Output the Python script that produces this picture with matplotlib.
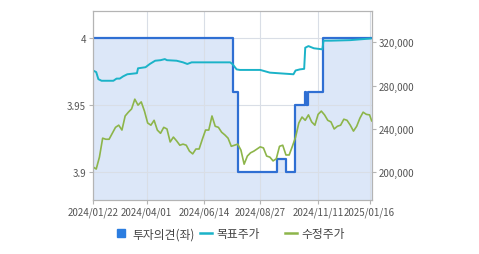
import matplotlib
matplotlib.use("Agg")
import matplotlib.pyplot as plt
from matplotlib.lines import Line2D
import pandas as pd

plt.rcParams["font.family"] = ["Noto Sans CJK KR", "DejaVu Sans"]

# --- data ---
days = pd.bdate_range("2024-01-22", "2025-01-20")   # trading-day category axis

tick_dates = ["2024-01-22", "2024-04-01", "2024-06-14", "2024-08-27", "2024-11-11", "2025-01-16"]
tick_labels = ["2024/01/22", "2024/04/01", "2024/06/14", "2024/08/27", "2024/11/11", "2025/01/16"]

# investment opinion (left axis), step series
opinion_dates = ["2024-01-22", "2024-07-23", "2024-07-29", "2024-09-18", "2024-09-30",
                 "2024-10-10", "2024-10-24", "2024-10-25", "2024-10-29", "2024-11-18", "2025-01-20"]
opinion_vals = [4.0, 3.96, 3.90, 3.91, 3.90, 3.95, 3.96, 3.95, 3.96, 4.0, 4.0]

# target price (right axis)
target_dates = ["2024-01-22", "2024-01-25", "2024-01-29", "2024-02-01", "2024-02-16", "2024-02-21",
                "2024-02-26", "2024-02-29", "2024-03-06", "2024-03-19", "2024-03-20", "2024-03-29",
                "2024-04-04", "2024-04-11", "2024-04-18", "2024-04-24", "2024-04-26", "2024-05-09",
                "2024-05-17", "2024-05-23", "2024-05-29", "2024-07-18", "2024-07-22", "2024-07-26",
                "2024-07-31", "2024-08-27", "2024-09-09", "2024-10-09", "2024-10-11", "2024-10-17",
                "2024-10-23", "2024-10-24", "2024-10-29", "2024-11-05", "2024-11-15", "2024-11-18",
                "2024-11-27", "2024-12-23", "2025-01-17"]
target_vals = [294000, 292500, 286000, 284500, 284500, 286500,
               286500, 288500, 290500, 291500, 296000, 297000,
               300000, 303000, 303500, 304500, 303500, 303000,
               301500, 300000, 301500, 301500, 300000, 295000,
               294500, 294500, 292000, 290500, 294000, 295000,
               295500, 315000, 316500, 314500, 313500, 321500,
               321500, 322000, 323500]

# adjusted close (right axis), sampled every 3 trading days
price_dates = list(days[:259:3]) + [days[-1]]
price_vals = [205000, 203000, 214000, 231500, 230500, 230500, 236000, 241500, 243500, 239000,
              252000, 255500, 258500, 267500, 262000, 265000, 256500, 245500, 243500, 248000,
              239000, 236000, 241500, 240000, 228000, 232500, 229000, 225000, 226000, 225000,
              219500, 217000, 221500, 221500, 230500, 239000, 239000, 252000, 242500, 241500,
              237000, 234500, 231500, 224000, 225000, 226000, 220500, 207500, 215000, 218000,
              219500, 221500, 223500, 222500, 215000, 214000, 210500, 212500, 224000, 225000,
              216000, 216000, 224000, 232500, 245500, 251000, 248000, 253000, 246500, 243500,
              253500, 256500, 253000, 248000, 246500, 240000, 242500, 243500, 249000, 248000,
              243500, 238000, 242500, 250000, 255500, 253500, 253000, 247500]


def pos(dates):
    return days.get_indexer(pd.to_datetime(dates))


BLUE = "#2f6fd3"
CYAN = "#1bb3c8"
GREEN = "#8db54a"
FILL = "#dce7f8"
GRID = "#d9dee6"
SPINE = "#b4b4b4"
TXT = "#555555"

fig = plt.figure(figsize=(4.79, 2.55), dpi=100)
ax = fig.add_axes([93 / 479, 1 - 201 / 255, (371.7 - 93) / 479, (201 - 12) / 255])
ax2 = ax.twinx()

ylo, yhi = 3.8793, 4.0204
op_x = pos(opinion_dates)
# step outline of the opinion series, filled down to the bottom
sx, sy = [], []
for i in range(len(op_x) - 1):
    sx += [op_x[i], op_x[i + 1]]
    sy += [opinion_vals[i], opinion_vals[i]]
ax.fill_between(sx, ylo, sy, color=FILL, linewidth=0, zorder=1)
ax.plot(sx, sy, color=BLUE, linewidth=1.6, zorder=2)
ax.set_ylim(ylo, yhi)
ax.set_xlim(0, len(days) - 1)
ax.set_yticks([3.9, 3.95, 4.0])
ax.set_yticklabels(["3.9", "3.95", "4"])
ax.set_xticks(pos(tick_dates))
ax.set_xticklabels(tick_labels)
ax.grid(True, color=GRID, linewidth=0.8)

ax2.plot(pos(target_dates), target_vals, color=CYAN, linewidth=1.4)
ax2.plot(pos(price_dates), price_vals, color=GREEN, linewidth=1.2)
ax2.set_ylim(174430, 348900)
ax2.set_yticks([200000, 240000, 280000, 320000])
ax2.set_yticklabels(["200,000", "240,000", "280,000", "320,000"])

for a in (ax, ax2):
    for s in a.spines.values():
        s.set_color(SPINE)
    a.tick_params(colors=SPINE, labelcolor=TXT, labelsize=7, length=3, width=0.8, pad=2)

# legend: three fixed-width items along the bottom
legend_items = [
    (Line2D([], [], marker="s", linestyle="none", color="#2b7de0", markersize=6),
     "투자의견(좌)", 116.5, 0.75, 0.6),
    (Line2D([], [], color=CYAN, linewidth=1.8), "목표주가", 200, 1.05, 0.3),
    (Line2D([], [], color=GREEN, linewidth=1.8), "수정주가", 285, 1.05, 0.3),
]
for h, label, x0, hl, pad in legend_items:
    fig.legend([h], [label], loc="center left", bbox_to_anchor=(x0 / 479, 1 - 235 / 255),
               frameon=False, fontsize=8.5, labelcolor="#444444", handlelength=hl,
               handletextpad=pad, borderpad=0, borderaxespad=0)

fig.savefig("out.png", dpi=100)
